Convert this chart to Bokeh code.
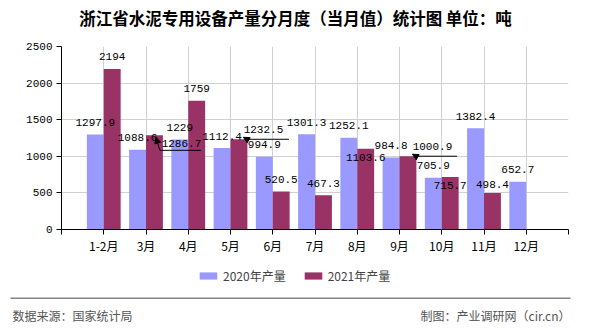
from bokeh.plotting import figure
from bokeh.layouts import column
from bokeh.models import (ColumnDataSource, Range1d, FixedTicker, Legend, LegendItem,
                          Arrow, NormalHead)
from bokeh.core.properties import value
from bokeh.embed import file_html
from bokeh.resources import INLINE

# ---------------- data ----------------
months = ["1-2月", "3月", "4月", "5月", "6月", "7月", "8月", "9月", "10月", "11月", "12月"]
prod_2020 = [1297.9, 1088.6, 1229, 1112.4, 994.9, 1301.3, 1252.1, 984.8, 705.9, 1382.4, 652.7]
prod_2021 = [2194, 1286.7, 1759, 1232.5, 520.5, 467.3, 1103.6, 1000.9, 715.7, 498.4, None]
series_names = ["2020年产量", "2021年产量"]
y_ticks = [0, 500, 1000, 1500, 2000, 2500]
title_text = "浙江省水泥专用设备产量分月度（当月值）统计图 单位：吨"
source_text = "数据来源：国家统计局"
maker_text = "制图：产业调研网（cir.cn）"

# ---------------- style ----------------
C20 = "#9999ff"
C21 = "#993366"
W = 590
TOP_H, MAIN_H, BOT_H = 35, 227, 68
L, R = 61, 22
FRAME_TOP, FRAME_BOTTOM = 46, 229          # absolute page pixels
BAR_W = 0.4
NUM_FONT = "Liberation Mono"
CJK_FONT = "Noto Sans CJK SC"

# label offsets in screen px (dx, dy) ; dy positive = down
off20 = [(0, -12)] * 11
off21 = [(0, -12), (27, 8.5), (0, -12), (24.5, -10), (0, -12), (0, -12),
         (0, 9), (24.5, -10), (0, 8.5), (0, -9), (0, -12)]
# callouts for 2021 labels: index -> (tip dx, tip dy, elbow dx, elbow dy, line length) px
callouts = {1: (1.5, 2, 5.5, 15, 41), 3: (4.5, -2, 8, 0, 42), 7: (4.5, -2, 8, 0, 41)}

n = len(months)
xs = list(range(n))

def strip(height):
    f = figure(width=W, height=height, output_backend="svg", toolbar_location=None,
               x_range=Range1d(0, W), y_range=Range1d(height, 0),
               x_axis_location=None, y_axis_location=None,
               min_border=0, min_border_left=0, min_border_right=0,
               min_border_top=0, min_border_bottom=0, frame_align=False)
    f.outline_line_color = None
    f.grid.visible = False
    return f

# ---------------- title strip ----------------
top = strip(TOP_H)
top.text(x=[W / 2], y=[17.7], text=[title_text], text_align="center", text_baseline="middle",
         text_font=value(CJK_FONT), text_font_size="16.5px", text_font_style="bold",
         text_color="black")

# ---------------- main chart ----------------
p = figure(width=W, height=MAIN_H, output_backend="svg", toolbar_location=None,
           x_range=Range1d(-1, n), y_range=Range1d(0, 2500),
           min_border_left=L, min_border_right=R,
           min_border_top=FRAME_TOP - TOP_H, min_border_bottom=TOP_H + MAIN_H - FRAME_BOTTOM,
           frame_align=False)
p.outline_line_color = None
p.background_fill_color = "white"
p.border_fill_color = "white"

frame_w = W - L - R
frame_h = FRAME_BOTTOM - FRAME_TOP
px_x = (n + 1) / frame_w          # data units per px in x
px_y = 2500 / frame_h             # data units per px in y

def clean(v):
    return float("nan") if v is None else float(v)

src20 = ColumnDataSource(dict(x=[x - BAR_W / 2 for x in xs], top=[clean(v) for v in prod_2020]))
src21 = ColumnDataSource(dict(x=[x + BAR_W / 2 for x in xs], top=[clean(v) for v in prod_2021]))
p.vbar(x="x", top="top", width=BAR_W, bottom=0, source=src20, fill_color=C20, line_color=None)
p.vbar(x="x", top="top", width=BAR_W, bottom=0, source=src21, fill_color=C21, line_color=None)

def label_source(vals, shift, offs):
    d = dict(x=[], y=[], t=[], dx=[], dy=[])
    for i, v in enumerate(vals):
        if v is None:
            continue
        d["x"].append(i + shift)
        d["y"].append(v)
        d["t"].append("%g" % v)
        d["dx"].append(offs[i][0])
        d["dy"].append(offs[i][1])
    return ColumnDataSource(d)

for vals, shift, offs in [(prod_2020, -BAR_W / 2, off20), (prod_2021, BAR_W / 2, off21)]:
    s = label_source(vals, shift, offs)
    p.text(x="x", y="y", text="t", x_offset="dx", y_offset="dy", source=s,
           text_align="center", text_baseline="middle", text_color="black",
           text_font=value(NUM_FONT), text_font_size="11px")

# callout leader lines
for i, (tdx, tdy, edx, edy, ln) in callouts.items():
    ax = i + BAR_W / 2
    ay = prod_2021[i]
    tip = (ax + tdx * px_x, ay - tdy * px_y)
    elb = (ax + edx * px_x, ay - edy * px_y)
    end = (elb[0] + ln * px_x, elb[1])
    p.segment(x0=[elb[0]], y0=[elb[1]], x1=[end[0]], y1=[end[1]], line_color="black", line_width=1)
    p.add_layout(Arrow(x_start=elb[0], y_start=elb[1], x_end=tip[0], y_end=tip[1],
                       line_color="black", line_width=1,
                       end=NormalHead(size=6, fill_color="black", line_color="black")))

# axes
ticks_x = list(range(-1, n + 1))
overrides = {i: months[i] for i in xs}
overrides[-1] = ""
overrides[n] = ""
p.xaxis.ticker = FixedTicker(ticks=ticks_x)
p.xaxis.major_label_overrides = overrides
p.xgrid.ticker = FixedTicker(ticks=ticks_x)
p.yaxis.ticker = FixedTicker(ticks=y_ticks)
p.ygrid.ticker = FixedTicker(ticks=y_ticks)
for g in (p.xgrid, p.ygrid):
    g.grid_line_color = "#d0d0d0"
    g.grid_line_width = 1
for ax_ in (p.xaxis, p.yaxis):
    ax_.axis_line_color = "black"
    ax_.major_tick_line_color = "black"
    ax_.minor_tick_line_color = None
    ax_.major_tick_out = 5
    ax_.major_tick_in = 0
    ax_.major_label_text_color = "black"
    ax_.major_label_text_font_size = "11px"
p.xaxis.major_label_text_font = CJK_FONT
p.xaxis.major_label_text_font_size = "12px"
p.yaxis.major_label_text_font = NUM_FONT
p.xaxis.major_label_standoff = 2
p.yaxis.major_label_standoff = 4

# ---------------- legend + footer strip ----------------
bot = strip(BOT_H)
k20 = bot.vbar(x=[-1000], top=[0], bottom=[0], width=1, fill_color=C20, line_color=None)
k21 = bot.vbar(x=[-1000], top=[0], bottom=[0], width=1, fill_color=C21, line_color=None)
legend = Legend(items=[LegendItem(label=series_names[0], renderers=[k20]),
                       LegendItem(label=series_names[1], renderers=[k21])],
                orientation="horizontal", location=(197, BOT_H - 22),
                glyph_width=22, glyph_height=9, label_standoff=4, spacing=16,
                padding=0, margin=0, label_height=14,
                label_text_font=CJK_FONT, label_text_font_size="12px",
                border_line_color=None, background_fill_alpha=0)
bot.add_layout(legend, "center")
sep_y = 297.7 - (TOP_H + MAIN_H)
foot_y = 315.3 - (TOP_H + MAIN_H)
bot.segment(x0=[10], y0=[sep_y], x1=[570], y1=[sep_y], line_color="#858585", line_width=1.5)
bot.text(x=[12], y=[foot_y], text=[source_text], text_align="left", text_baseline="middle",
         text_font=value(CJK_FONT), text_font_size="12px", text_color="#555555")
bot.text(x=[570], y=[foot_y], text=[maker_text], text_align="right", text_baseline="middle",
         text_font=value(CJK_FONT), text_font_size="12px", text_color="#555555")

layout = column(top, p, bot, spacing=0)
open("out.html", "w").write(file_html(layout, INLINE))
